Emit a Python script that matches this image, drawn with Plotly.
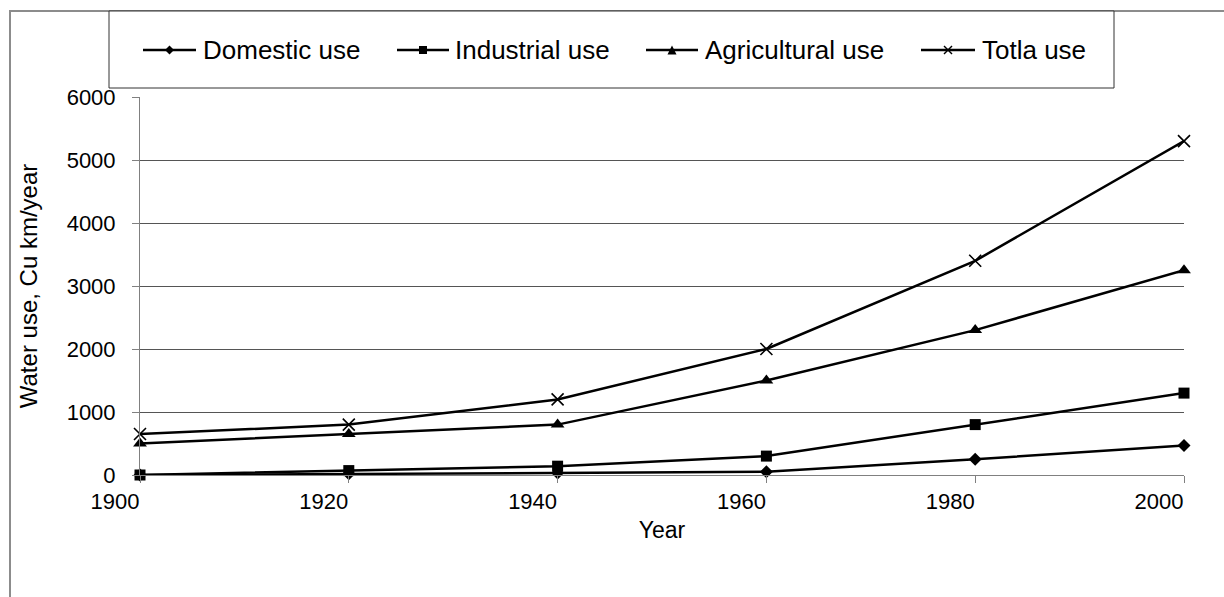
import plotly.graph_objects as go

# Water use by sector, cubic km per year
years = [1900, 1920, 1940, 1960, 1980, 2000]
domestic = [0, 20, 30, 50, 250, 470]
industrial = [0, 70, 140, 300, 800, 1300]
agricultural = [500, 650, 800, 1500, 2300, 3250]
total = [650, 800, 1200, 2000, 3400, 5300]

series_names = ["Domestic use", "Industrial use", "Agricultural use", "Totla use"]
series_values = [domestic, industrial, agricultural, total]

W, H = 1224, 597
L, R, T, B = 140, 1184, 97, 475  # plot area edges in pixels
FONT = "Arial, Liberation Sans, sans-serif"


def px(x):
    return (x - L) / (R - L)


def py(y):
    return (B - y) / (B - T)


marker_styles = [
    dict(symbol="diamond", size=10, color="black"),
    dict(symbol="square", size=11, color="black"),
    dict(symbol="triangle-up", size=12, color="black"),
    dict(symbol="x-thin-open", size=12, color="black", line=dict(width=1.6, color="black")),
]

fig = go.Figure()
for name, vals, mk in zip(series_names, series_values, marker_styles):
    fig.add_trace(go.Scatter(
        x=years, y=vals, name=name, mode="lines+markers",
        line=dict(color="black", width=2.5),
        marker=mk, cliponaxis=False, showlegend=False,
    ))

shapes = []
annotations = []

# outer chart frame
shapes.append(dict(type="rect", xref="paper", yref="paper",
                   x0=px(10), x1=px(1240), y0=py(11), y1=py(610),
                   line=dict(color="#8c8c8c", width=2), layer="below"))

# legend box
shapes.append(dict(type="rect", xref="paper", yref="paper",
                   x0=px(109), x1=px(1114), y0=py(11), y1=py(88),
                   line=dict(color="#333333", width=1), fillcolor="white"))

legend_y = 50
sample_x = [(143, 196), (397, 449), (646, 698), (921, 975)]
text_x = [201, 453, 703, 980]
for i, (name, (a, b)) in enumerate(zip(series_names, sample_x)):
    shapes.append(dict(type="line", xref="paper", yref="paper",
                       x0=px(a), x1=px(b), y0=py(legend_y), y1=py(legend_y),
                       line=dict(color="black", width=2.5)))
    cx, cy = (a + b) / 2, legend_y
    if i == 0:
        d = 4.5
        path = f"M {px(cx - d)},{py(cy)} L {px(cx)},{py(cy - d)} L {px(cx + d)},{py(cy)} L {px(cx)},{py(cy + d)} Z"
        shapes.append(dict(type="path", xref="paper", yref="paper", path=path,
                           fillcolor="black", line=dict(color="black", width=0)))
    elif i == 1:
        d = 4
        shapes.append(dict(type="rect", xref="paper", yref="paper",
                           x0=px(cx - d), x1=px(cx + d), y0=py(cy - d), y1=py(cy + d),
                           fillcolor="black", line=dict(color="black", width=0)))
    elif i == 2:
        d = 4.5
        path = f"M {px(cx - d)},{py(cy + d)} L {px(cx)},{py(cy - d)} L {px(cx + d)},{py(cy + d)} Z"
        shapes.append(dict(type="path", xref="paper", yref="paper", path=path,
                           fillcolor="black", line=dict(color="black", width=0)))
    else:
        d = 4
        for s in (1, -1):
            shapes.append(dict(type="line", xref="paper", yref="paper",
                               x0=px(cx - d), x1=px(cx + d),
                               y0=py(cy - s * d), y1=py(cy + s * d),
                               line=dict(color="black", width=1.4)))
    annotations.append(dict(xref="paper", yref="paper", x=px(text_x[i]), y=py(legend_y),
                            xanchor="left", yanchor="middle", showarrow=False,
                            text=name, font=dict(family=FONT, size=26, color="black")))

fig.update_layout(
    width=W, height=H,
    margin=dict(l=L, r=W - R, t=T, b=H - B, pad=0),
    paper_bgcolor="white", plot_bgcolor="white",
    showlegend=False,
    shapes=shapes, annotations=annotations,
    font=dict(family=FONT, size=22, color="black"),
    xaxis=dict(
        range=[1900, 2000], tickvals=years, ticktext=[str(y) for y in years],
        showgrid=False, zeroline=False,
        showline=True, linecolor="#808080", linewidth=1,
        ticks="outside", ticklen=7, tickcolor="#808080",
        ticklabelshift=-25,
        tickfont=dict(family=FONT, size=22, color="black"),
        title=dict(text="Year", font=dict(family=FONT, size=23, color="black"), standoff=8),
    ),
    yaxis=dict(
        range=[0, 6000], tickvals=[0, 1000, 2000, 3000, 4000, 5000, 6000],
        showgrid=True, gridcolor="#555555", gridwidth=1,
        zeroline=False,
        showline=True, linecolor="#808080", linewidth=1,
        ticks="outside", ticklen=7, tickcolor="#808080",
        ticklabelstandoff=12,
        tickfont=dict(family=FONT, size=22, color="black"),
        title=dict(text="Water use, Cu km/year", font=dict(family=FONT, size=24, color="black"), standoff=22),
    ),
)

fig.write_html("out.html")
